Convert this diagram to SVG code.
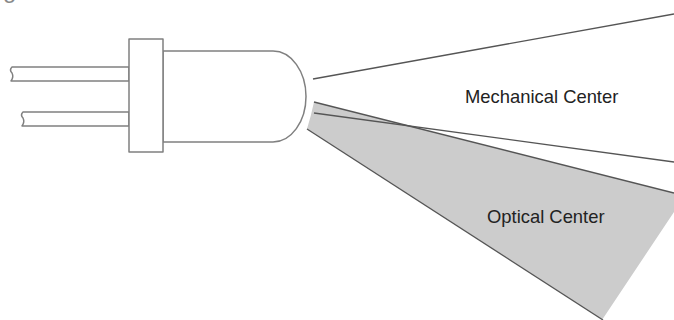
<svg xmlns="http://www.w3.org/2000/svg" width="674" height="320" viewBox="0 0 674 320">
  <style>
    .outline { fill: #ffffff; stroke: #808080; stroke-width: 1.5; stroke-linejoin: round; }
    .ray { fill: none; stroke: #555555; stroke-width: 1.3; }
    .beam { fill: #cccccc; stroke: none; }
    .label { font-family: "Liberation Sans", Arial, sans-serif; font-size: 18.4px; fill: #222222; }
  </style>
  <rect width="674" height="320" fill="#ffffff"/>

  <!-- clipped caption glyph at the top edge -->
  <text x="3" y="-2" font-family="Liberation Sans, Arial, sans-serif" font-size="24" fill="#8a8a8a">g</text>

  <!-- optical beam (shaded wedge) -->
  <g id="optical-beam">
    <path class="beam" d="M314,102 L674,193 L674,212 L602,320 L603,320 L307,129 Q311,116 314,102 Z"/>
  </g>

  <!-- LED -->
  <g id="led">
    <path class="outline" d="M129,67 L12,67 Q9,70 12,73 Q14,77 11,81 L129,81 Z"/>
    <path class="outline" d="M129,112 L23,112 Q20,115 23,118 Q25,122 22,126 L129,126 Z"/>
    <path class="outline" d="M163,51 H273 A33,45.5 0 0 1 273,142 H163 Z"/>
    <rect class="outline" x="129" y="39" width="34" height="113"/>
  </g>

  <!-- beam boundary lines -->
  <g id="connectors">
    <line class="ray" x1="313" y1="79" x2="674" y2="14"/>
    <line class="ray" x1="314" y1="113" x2="674" y2="162"/>
    <line class="ray" x1="314" y1="102" x2="674" y2="193"/>
    <line class="ray" x1="307" y1="129" x2="603" y2="320"/>
  </g>

  <g id="mechanical-center">
    <text class="label" x="465" y="103">Mechanical Center</text>
  </g>
  <g id="optical-center">
    <text class="label" x="487" y="223">Optical Center</text>
  </g>
</svg>
